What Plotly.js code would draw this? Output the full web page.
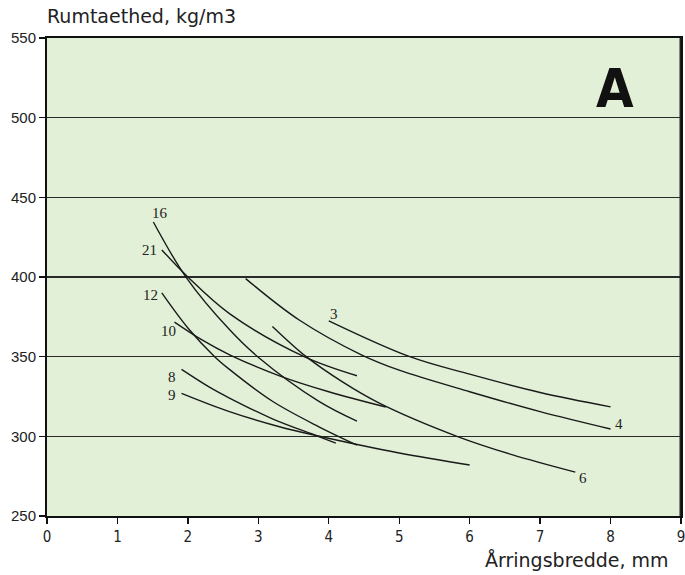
<!DOCTYPE html>
<html>
<head>
<meta charset="utf-8">
<script src="https://cdn.plot.ly/plotly-3.0.1.min.js"></script>
<style>html,body{margin:0;padding:0;background:#fff;overflow:hidden;}#chart{width:685px;height:575px;}</style>
</head>
<body>
<div id="chart"></div>
<script>
// Curve data (ring width in mm, density in kg/m3)
const c3x  = [4.0, 5.15, 6.0, 7.0, 8.0];
const c3y  = [372.5, 350, 339, 327.5, 318.5];
const c4x  = [2.82, 3.58, 4.47, 5.0, 6.0, 7.0, 8.0];
const c4y  = [399, 373, 351, 341.5, 328, 315.5, 304.6];
const c6x  = [3.2, 3.68, 4.2, 4.71, 5.82, 6.6, 7.5];
const c6y  = [369, 350, 334, 321, 300, 288.5, 277.5];
const c16x = [1.51, 1.98, 2.59, 2.99, 3.86, 4.4];
const c16y = [434.5, 399.5, 367, 350, 322, 309.6];
const c21x = [1.63, 2.0, 2.59, 3.65, 4.4];
const c21y = [417, 400, 377, 350, 338];
const c12x = [1.63, 2.0, 2.38, 2.59, 3.2, 3.86, 4.4];
const c12y = [390, 368, 350, 342, 322, 306, 294.5];
const c10x = [1.81, 2.2, 2.6, 3.3, 4.0, 4.81];
const c10y = [371.7, 360.5, 351, 338, 328, 318.4];
const c8x  = [1.91, 2.3, 2.59, 3.2, 3.82, 4.1];
const c8y  = [342, 331, 324, 311, 300.5, 295.8];
const c9x  = [1.91, 2.59, 3.3, 3.82, 5.0, 6.0];
const c9y  = [327, 315.5, 306, 300.5, 289.5, 282];

// Curve labels
const labelText = ['16', '21', '12', '10', '8', '9', '3', '4', '6'];
const labelX    = [1.60, 1.46, 1.47, 1.73, 1.78, 1.78, 4.08, 8.12, 7.61];
const labelY    = [440, 417, 388.7, 366.3, 337.4, 326, 377, 307.7, 273.6];

const xTicks = [0, 1, 2, 3, 4, 5, 6, 7, 8, 9];
const yTicks = [250, 300, 350, 400, 450, 500, 550];

const curves = [[c3x,c3y],[c4x,c4y],[c6x,c6y],[c16x,c16y],[c21x,c21y],[c12x,c12y],[c10x,c10y],[c8x,c8y],[c9x,c9y]];
const traces = curves.map(c => ({
  x: c[0], y: c[1], type: 'scatter', mode: 'lines',
  line: {color: '#1a1a1a', width: 1.4, shape: 'spline', smoothing: 1},
  hoverinfo: 'skip', showlegend: false
}));

const annotations = labelText.map((t, i) => ({
  x: labelX[i], y: labelY[i], xref: 'x', yref: 'y', text: t, showarrow: false,
  font: {family: 'Liberation Serif, serif', size: 15, color: '#222'},
  xanchor: 'center', yanchor: 'middle'
}));
annotations.push({
  xref: 'paper', yref: 'paper', x: 0.896, y: 0.895, text: '<b>A</b>', showarrow: false,
  font: {family: 'Liberation Sans Narrow, DejaVu Sans Condensed, sans-serif', size: 54, color: '#111'},
  xanchor: 'center', yanchor: 'middle'
});
annotations.push({
  xref: 'paper', yref: 'paper', x: -0.003, y: 1.0, yshift: 9, text: 'Rumtaethed, kg/m3', showarrow: false,
  font: {family: 'DejaVu Sans, sans-serif', size: 19, color: '#222'},
  xanchor: 'left', yanchor: 'bottom'
});
annotations.push({
  xref: 'paper', yref: 'paper', x: 0.985, y: 0, yshift: -31, text: 'Årringsbredde, mm', showarrow: false,
  font: {family: 'DejaVu Sans, sans-serif', size: 19, color: '#222'},
  xanchor: 'right', yanchor: 'top'
});

const layout = {
  width: 685, height: 575,
  margin: {l: 47, r: 4, t: 38, b: 59},
  paper_bgcolor: '#ffffff',
  plot_bgcolor: '#e2f0d7',
  showlegend: false,
  xaxis: {
    range: [0, 9], tickvals: xTicks, ticktext: xTicks.map(String),
    showgrid: false, zeroline: false,
    showline: true, linecolor: '#111', linewidth: 2, mirror: true,
    ticks: 'outside', ticklen: 6, tickwidth: 1.3, tickcolor: '#111',
    ticklabeloverflow: 'allow',
    tickfont: {family: 'DejaVu Sans Condensed, DejaVu Sans, sans-serif', size: 15, color: '#222'}
  },
  yaxis: {
    range: [250, 550], tickvals: yTicks, ticktext: yTicks.map(String),
    showgrid: true, gridcolor: '#2a2a2a', gridwidth: 1.4, zeroline: false,
    showline: true, linecolor: '#111', linewidth: 2, mirror: true,
    ticks: 'outside', ticklen: 6, tickwidth: 1.3, tickcolor: '#111',
    tickfont: {family: 'Liberation Sans, Arial, sans-serif', size: 15, color: '#222'}
  },
  shapes: [{
    type: 'line', xref: 'x', yref: 'y', x0: 9, x1: 9, y0: 250, y1: 550, layer: 'above',
    line: {color: '#222', width: 3}
  }],
  annotations: annotations
};

Plotly.newPlot('chart', traces, layout, {displayModeBar: false, staticPlot: true});
</script>
</body>
</html>
